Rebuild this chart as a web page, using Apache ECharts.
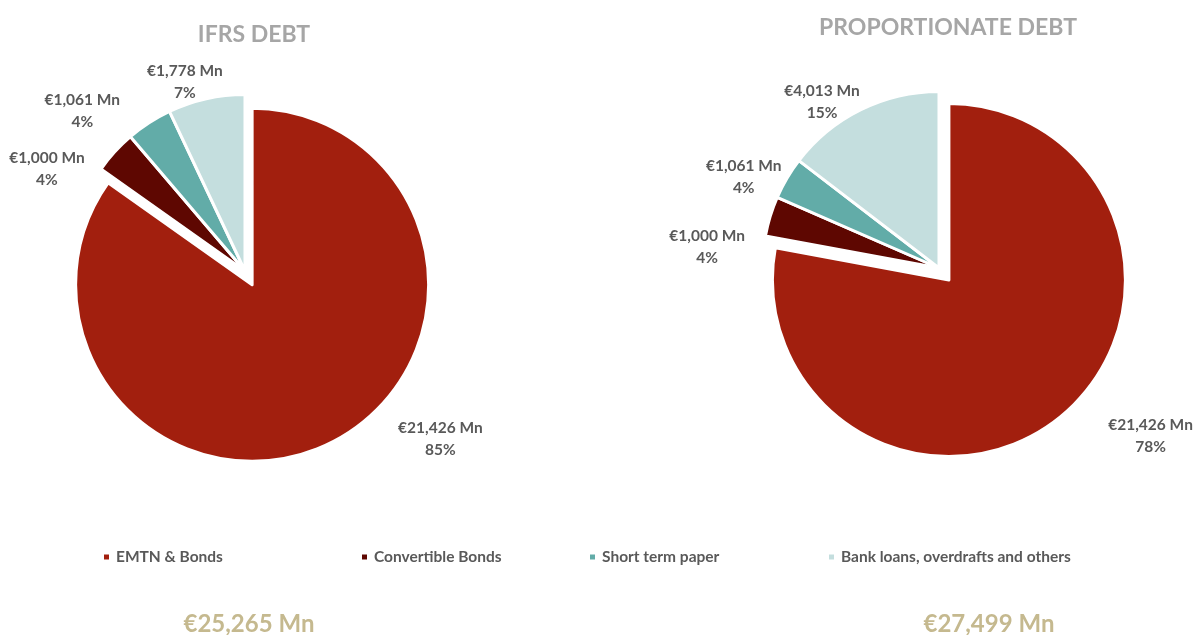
<!DOCTYPE html>
<html>
<head>
<meta charset="utf-8">
<script src="https://cdn.jsdelivr.net/npm/echarts@6/dist/echarts.min.js"></script>
<style>
  html, body { margin: 0; padding: 0; background: #fff; }
  #chart { width: 1193px; height: 635px; }
</style>
</head>
<body>
<div id="chart"></div>
<script>
// Debt breakdown (€ Mn)
const categories = ['EMTN & Bonds', 'Convertible Bonds', 'Short term paper', 'Bank loans, overdrafts and others'];
const ifrsValues = [21426, 1000, 1061, 1778];
const proportionateValues = [21426, 1000, 1061, 4013];
const panelTitles = ['IFRS DEBT', 'PROPORTIONATE DEBT'];
const totals = [25265, 27499];

// styling
const sliceColors = ['#a21f0e', '#5e0701', '#62aca8', '#c4dede'];
const FONT = 'Lato';
const labelColor = '#595959';
// label nudges (px) relative to the outside anchor of each slice
const ifrsNudge = [[98, -20], [-53, 31], [-56, 5], [-17, 3]];
const propNudge = [[76, 5], [-44, 37], [-26, 9], [-30, 10]];

const fmt = v => '€' + v.toLocaleString('en-US') + ' Mn';

function pieSeries(values, center, nudges) {
  const sum = values.reduce((a, b) => a + b, 0);
  return {
    type: 'pie',
    center: center,
    radius: 176.5,
    startAngle: 90,
    clockwise: true,
    selectedMode: 'multiple',
    selectedOffset: 15.5,
    avoidLabelOverlap: false,
    animation: false,
    itemStyle: { borderColor: '#ffffff', borderWidth: 3 },
    emphasis: { disabled: true },
    data: values.map((v, i) => ({
      name: categories[i],
      value: v,
      selected: i === 0,
      itemStyle: { color: sliceColors[i] }
    })),
    label: {
      show: true,
      position: 'outside',
      distanceToLabelLine: 0,
      formatter: p => fmt(p.value) + '\n' + Math.round(p.value / sum * 100) + '%',
      fontFamily: FONT,
      fontWeight: 'bold',
      fontSize: 15.5,
      lineHeight: 22,
      color: labelColor
    },
    labelLine: { show: false, length: 20, length2: 0 },
    labelLayout: p => ({
      align: 'center',
      verticalAlign: 'middle',
      dx: nudges[p.dataIndex][0],
      dy: nudges[p.dataIndex][1]
    })
  };
}

const legendLefts = [102, 360, 588, 827];

const chart = echarts.init(document.getElementById('chart'), null, { renderer: 'canvas' });
chart.setOption({
  backgroundColor: '#ffffff',
  animation: false,
  color: sliceColors,
  title: [
    { text: panelTitles[0], left: 249, top: 18, textAlign: 'center',
      textStyle: { fontFamily: FONT, fontWeight: 'bold', fontSize: 23, color: '#a6a6a6' } },
    { text: panelTitles[1], left: 943, top: 11, textAlign: 'center',
      textStyle: { fontFamily: FONT, fontWeight: 'bold', fontSize: 23, color: '#a6a6a6' } },
    { text: fmt(totals[0]), left: 244, top: 607, textAlign: 'center',
      textStyle: { fontFamily: FONT, fontWeight: 'bold', fontSize: 24, color: '#c5b98f' } },
    { text: fmt(totals[1]), left: 984, top: 607, textAlign: 'center',
      textStyle: { fontFamily: FONT, fontWeight: 'bold', fontSize: 24, color: '#c5b98f' } }
  ],
  legend: categories.map((c, i) => ({
    data: [c],
    left: legendLefts[i],
    top: 549,
    padding: 0,
    icon: 'rect',
    itemWidth: 7,
    itemHeight: 7,
    itemGap: 0,
    selectedMode: false,
    textStyle: { fontFamily: FONT, fontWeight: 'bold', fontSize: 15.5, color: labelColor, padding: [0, 0, 0, 1] }
  })),
  series: [
    pieSeries(ifrsValues, [245, 271], ifrsNudge),
    pieSeries(proportionateValues, [939, 268], propNudge)
  ]
});
</script>
</body>
</html>
